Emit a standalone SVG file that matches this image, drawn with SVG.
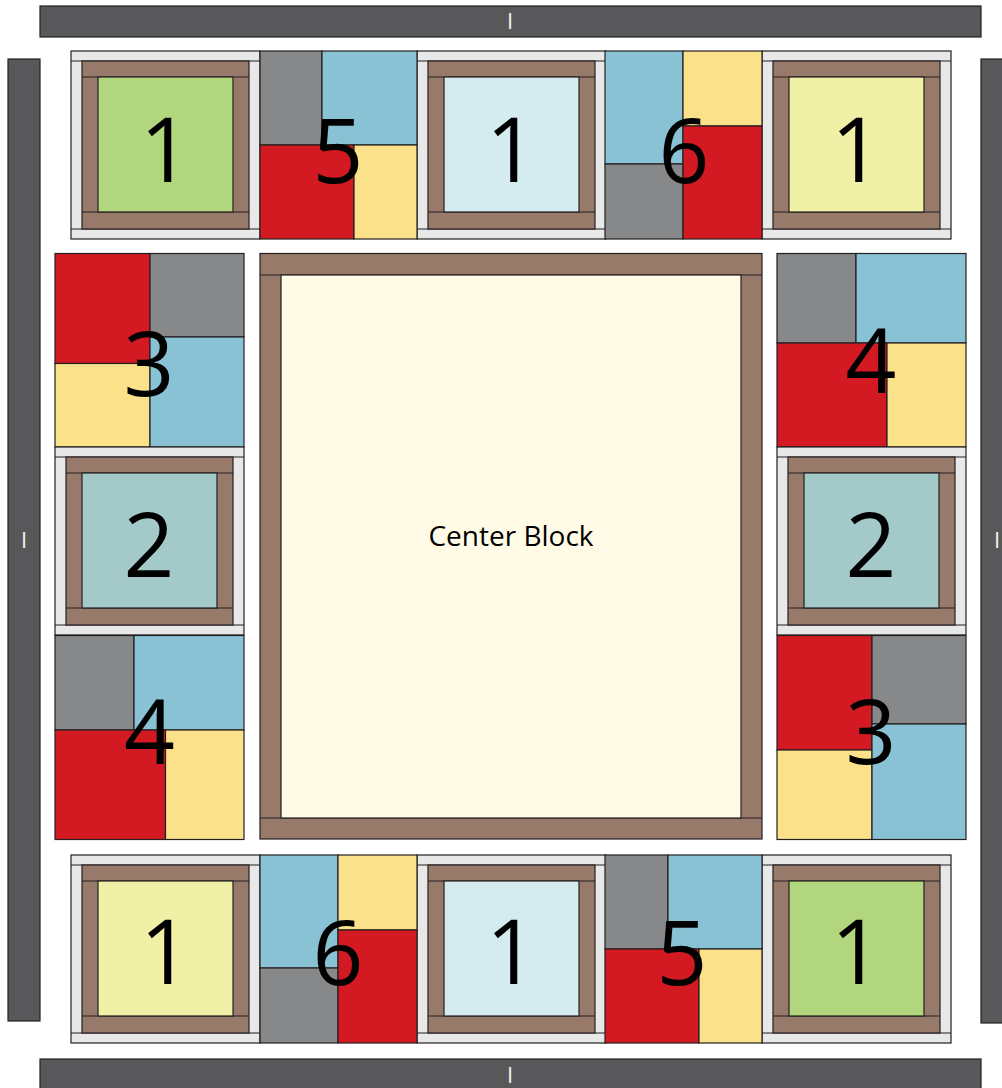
<svg xmlns="http://www.w3.org/2000/svg" xmlns:xlink="http://www.w3.org/1999/xlink" width="1002" height="1088" viewBox="0 0 1002 1088">
<style>
.s{stroke:#231F20;stroke-width:1.2}
.bar{fill:#58585A;stroke:#231F20;stroke-width:1.2}
.wh{fill:#E8E8E8}
.br{fill:#987A6A}
.gy{fill:#87888A}
.bl{fill:#88C2D4}
.rd{fill:#D31A23}
.yl{fill:#FBE28A}
.num{font-family:"Open Sans","Noto Sans",sans-serif;font-size:89px;fill:#000;text-anchor:middle}
.lbl{font-family:"Open Sans","Noto Sans",sans-serif;font-size:28px;fill:#000;text-anchor:middle}
.bi{font-family:"Open Sans","Noto Sans",sans-serif;font-size:22px;fill:#F2F2F2;text-anchor:middle}
</style>
<defs>
<g id="frame">
<rect class="wh s" x="0" y="0" width="189" height="188"/>
<line class="s" x1="0" y1="10" x2="189" y2="10"/>
<line class="s" x1="0" y1="178" x2="189" y2="178"/>
<rect class="br s" x="11" y="10" width="167" height="168"/>
<line class="s" x1="11" y1="26" x2="178" y2="26"/>
<line class="s" x1="11" y1="161" x2="178" y2="161"/>
</g>
</defs>
<rect width="1002" height="1088" fill="#FFFFFF"/>

<g id="border-top"><rect class="bar" x="40" y="6" width="941" height="31"/><text class="bi" x="510" y="29">I</text></g>
<g id="border-left"><rect class="bar" x="8" y="59" width="32" height="962"/><text class="bi" x="24" y="548">I</text></g>
<g id="border-right"><rect class="bar" x="981" y="59" width="30" height="964"/><text class="bi" x="997" y="548">I</text></g>
<g id="border-bottom"><rect class="bar" x="40" y="1059" width="941" height="40"/><text class="bi" x="510" y="1083">I</text></g>

<g id="center-block">
<rect class="br s" x="260" y="253.5" width="502" height="585.5"/>
<line class="s" x1="260" y1="275" x2="762" y2="275"/>
<line class="s" x1="260" y1="818" x2="762" y2="818"/>
<rect class="s" fill="#FFFBE7" x="281" y="275" width="460" height="543"/>
<text class="lbl" x="511" y="546">Center Block</text>
</g>

<g id="top-1a" transform="translate(71,51)"><use xlink:href="#frame" href="#frame"/><rect class="s" fill="#B1D67E" x="27" y="26" width="135" height="135"/><text class="num" x="94.5" y="131">1</text></g>
<g id="top-1b" transform="translate(417,51)"><use xlink:href="#frame" href="#frame"/><rect class="s" fill="#D4ECF0" x="27" y="26" width="135" height="135"/><text class="num" x="94.5" y="131">1</text></g>
<g id="top-1c" transform="translate(762,51)"><use xlink:href="#frame" href="#frame"/><rect class="s" fill="#F1F0A7" x="27" y="26" width="135" height="135"/><text class="num" x="94.5" y="131">1</text></g>

<g id="top-5">
<rect class="gy s" x="260" y="51" width="62" height="94"/>
<rect class="bl s" x="322" y="51" width="95" height="94"/>
<rect class="rd s" x="260" y="145" width="94" height="94"/>
<rect class="yl s" x="354" y="145" width="63" height="94"/>
<text class="num" x="338" y="183">5</text>
</g>
<g id="top-6">
<rect class="bl s" x="605" y="51" width="78" height="113"/>
<rect class="gy s" x="605" y="164" width="78" height="75"/>
<rect class="yl s" x="683" y="51" width="79" height="75"/>
<rect class="rd s" x="683" y="126" width="79" height="113"/>
<text class="num" x="684" y="183">6</text>
</g>

<g id="left-3">
<rect class="rd s" x="55" y="253.5" width="95" height="110"/>
<rect class="gy s" x="150" y="253.5" width="94" height="83.5"/>
<rect class="yl s" x="55" y="363.5" width="95" height="83.5"/>
<rect class="bl s" x="150" y="337" width="94" height="110"/>
<text class="num" x="149" y="396">3</text>
</g>
<g id="left-2" transform="translate(55,447)"><use xlink:href="#frame" href="#frame"/><rect class="s" fill="#A3C9C8" x="27" y="26" width="135" height="135"/><text class="num" x="94" y="130">2</text></g>
<g id="left-4">
<rect class="gy s" x="55" y="635.5" width="79" height="94.5"/>
<rect class="bl s" x="134" y="635.5" width="110" height="94.5"/>
<rect class="rd s" x="55" y="730" width="110.5" height="109.5"/>
<rect class="yl s" x="165.5" y="730" width="78.5" height="109.5"/>
<text class="num" x="149.5" y="764">4</text>
</g>

<g id="right-4">
<rect class="gy s" x="777" y="253.5" width="79" height="89.5"/>
<rect class="bl s" x="856" y="253.5" width="110" height="89.5"/>
<rect class="rd s" x="777" y="343" width="110" height="104"/>
<rect class="yl s" x="887" y="343" width="79" height="104"/>
<text class="num" x="871" y="393">4</text>
</g>
<g id="right-2" transform="translate(777,447)"><use xlink:href="#frame" href="#frame"/><rect class="s" fill="#A3C9C8" x="27" y="26" width="135" height="135"/><text class="num" x="94" y="130">2</text></g>
<g id="right-3">
<rect class="rd s" x="777" y="635.5" width="95" height="114.5"/>
<rect class="gy s" x="872" y="635.5" width="94" height="88.5"/>
<rect class="yl s" x="777" y="750" width="95" height="89.5"/>
<rect class="bl s" x="872" y="724" width="94" height="115.5"/>
<text class="num" x="871" y="764">3</text>
</g>

<g id="bottom-1a" transform="translate(71,855)"><use xlink:href="#frame" href="#frame"/><rect class="s" fill="#F1F0A7" x="27" y="26" width="135" height="135"/><text class="num" x="94.5" y="129">1</text></g>
<g id="bottom-1b" transform="translate(417,855)"><use xlink:href="#frame" href="#frame"/><rect class="s" fill="#D4ECF0" x="27" y="26" width="135" height="135"/><text class="num" x="94.5" y="129">1</text></g>
<g id="bottom-1c" transform="translate(762,855)"><use xlink:href="#frame" href="#frame"/><rect class="s" fill="#B1D67E" x="27" y="26" width="135" height="135"/><text class="num" x="94.5" y="129">1</text></g>

<g id="bottom-6">
<rect class="bl s" x="260" y="855" width="78" height="113"/>
<rect class="gy s" x="260" y="968" width="78" height="75"/>
<rect class="yl s" x="338" y="855" width="79" height="75"/>
<rect class="rd s" x="338" y="930" width="79" height="113"/>
<text class="num" x="338" y="985">6</text>
</g>
<g id="bottom-5">
<rect class="gy s" x="605" y="855" width="63" height="94"/>
<rect class="bl s" x="668" y="855" width="94" height="94"/>
<rect class="rd s" x="605" y="949" width="94" height="94"/>
<rect class="yl s" x="699" y="949" width="63" height="94"/>
<text class="num" x="682" y="985">5</text>
</g>
</svg>
